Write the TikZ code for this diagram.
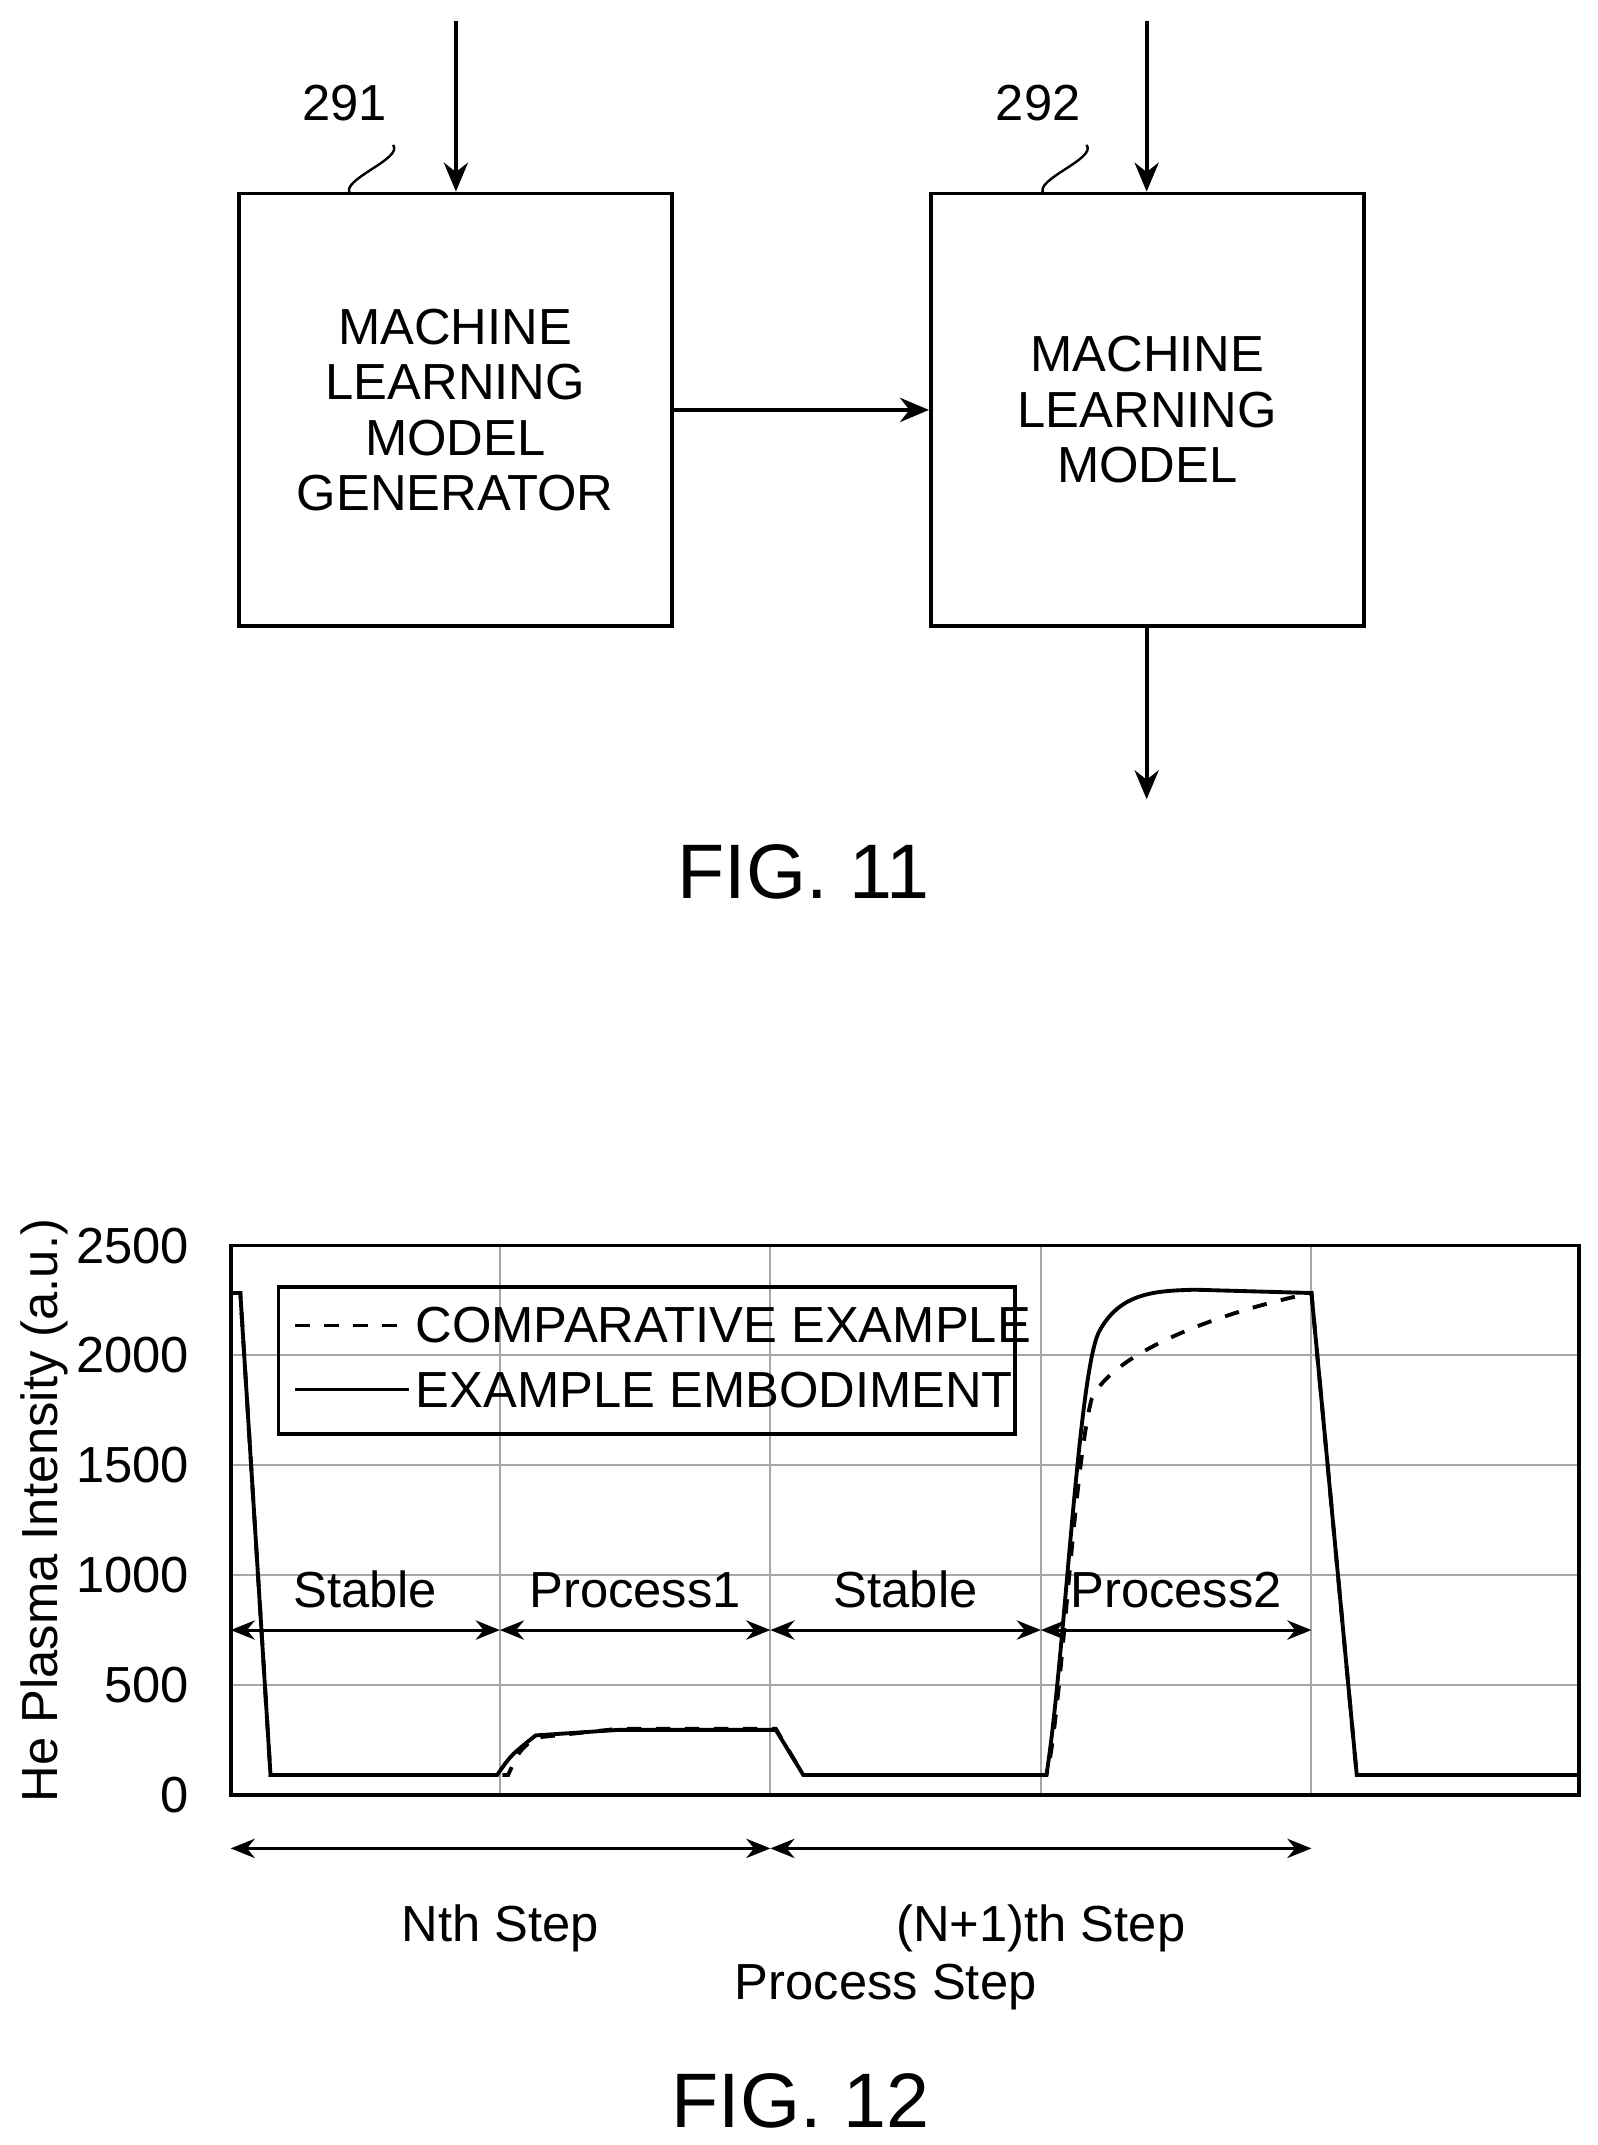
\documentclass[tikz,border=0pt]{standalone}
\usepackage{fontspec}
\setmainfont{Liberation Sans}
\usetikzlibrary{arrows.meta,positioning}
\tikzset{
  block/.style={draw, line width=0.8pt, minimum width=3.15cm, minimum height=3.15cm, align=center, font=\fontsize{10.5}{11.5}\selectfont},
  flow/.style={-{Stealth[length=6pt,width=5pt]}, line width=0.8pt},
  span/.style={{Stealth[length=5pt,width=4pt]}-{Stealth[length=5pt,width=4pt]}, line width=0.6pt},
  tick/.style={anchor=east, font=\fontsize{10.5}{11}\selectfont},
  lbl/.style={font=\fontsize{10.5}{11}\selectfont},
  grid/.style={line width=0.4pt, gray!70}
}
\begin{document}
\begin{tikzpicture}[x=0.01cm, y=-0.01cm]
    \useasboundingbox (0,0) rectangle (1163,1562);
    % FIG. 11
    \node [block] (gen) at (331.5,298.5) {MACHINE\\LEARNING\\MODEL\\GENERATOR};
    \node [block] (model) at (835.5,298.5) {MACHINE\\LEARNING\\MODEL};
    \coordinate (in1) at (332,15);
    \coordinate (in2) at (835,15);
    \coordinate (out) at (835,582);
    \node [lbl] (r291) at (251,75) {291};
    \node [lbl] (r292) at (756,75) {292};
    \draw [flow] (in1) -- (gen.north -| in1);
    \draw [flow] (in2) -- (model.north -| in2);
    \draw [flow] (gen.east) -- (model.west);
    \draw [flow] (model.south -| out) -- (out);
    \draw [line width=0.5pt] (r291.south east) ++(-8,5) .. controls +(8,10) and +(-8,-10) .. (255,141);
    \draw [line width=0.5pt] (r292.south east) ++(-8,5) .. controls +(8,10) and +(-8,-10) .. (760,141);
    \node [font=\fontsize{16}{18}\selectfont] (fig11) at (585,635) {FIG. 11};

    % FIG. 12
    \foreach \gy in {987,1067,1147,1227} \draw [grid] (168,\gy) -- (1150,\gy);
    \foreach \gx in {364,561,758,955} \draw [grid] (\gx,907) -- (\gx,1307);
    \draw [line width=0.8pt] (168,907) rectangle (1150,1307);
    \foreach \v/\gy in {0/1307,500/1227,1000/1147,1500/1067,2000/987,2500/907}
        \node [tick] at (150,\gy) {\v};
    \node [lbl, rotate=90] (ylab) at (32,1100) {He Plasma Intensity (a.u.)};

    \begin{scope}[shift={(0,1307)}, y=0.0016cm]
        \draw [line width=0.8pt, dashed] (168,2280) -- (175,2280) -- (197,90) -- (370,90)
            .. controls (378,200) .. (390,260) -- (450,300) -- (565,300) -- (585,90) -- (762,90)
            .. controls (772,300) and (782,1500) .. (795,1800)
            .. controls (810,2000) and (880,2180) .. (955,2280) -- (988,90) -- (1150,90);
        \draw [line width=0.8pt] (168,2280) -- (175,2280) -- (197,90) -- (362,90)
            .. controls (372,180) .. (390,270) -- (450,295) -- (565,295) -- (585,90) -- (762,90)
            .. controls (775,600) and (785,1900) .. (800,2100)
            .. controls (815,2280) and (840,2290) .. (870,2295) -- (955,2280) -- (988,90) -- (1150,90);
    \end{scope}

    \node [draw, line width=0.8pt, minimum width=5.36cm, minimum height=1.07cm] (legend) at (471,990.5) {};
    \draw [line width=0.6pt, dashed] (215,965) -- (298,965);
    \draw [line width=0.6pt] (215,1012) -- (298,1012);
    \node [lbl, anchor=west, inner sep=0] (lcomp) at (302,965) {COMPARATIVE EXAMPLE};
    \node [lbl, anchor=west, inner sep=0] (lemb) at (302,1012) {EXAMPLE EMBODIMENT};

    \coordinate (p0) at (168,1187);
    \coordinate (p1) at (364,1187);
    \coordinate (p2) at (561,1187);
    \coordinate (p3) at (758,1187);
    \coordinate (p4) at (955,1187);
    \draw [span] (p0) -- node [lbl, above=1pt] {Stable} (p1);
    \draw [span] (p1) -- node [lbl, above=1pt] {Process1} (p2);
    \draw [span] (p2) -- node [lbl, above=1pt] {Stable} (p3);
    \draw [span] (p3) -- node [lbl, above=1pt] {Process2} (p4);

    \coordinate (s0) at (168,1346);
    \coordinate (s1) at (561,1346);
    \coordinate (s2) at (955,1346);
    \draw [span] (s0) -- node [lbl, below=8pt] {Nth Step} (s1);
    \draw [span] (s1) -- node [lbl, below=8pt] {(N+1)th Step} (s2);
    \node [lbl] (xlab) at (645,1447) {Process Step};
    \node [font=\fontsize{16}{18}\selectfont] (fig12) at (583,1530) {FIG. 12};
\end{tikzpicture}
\end{document}
